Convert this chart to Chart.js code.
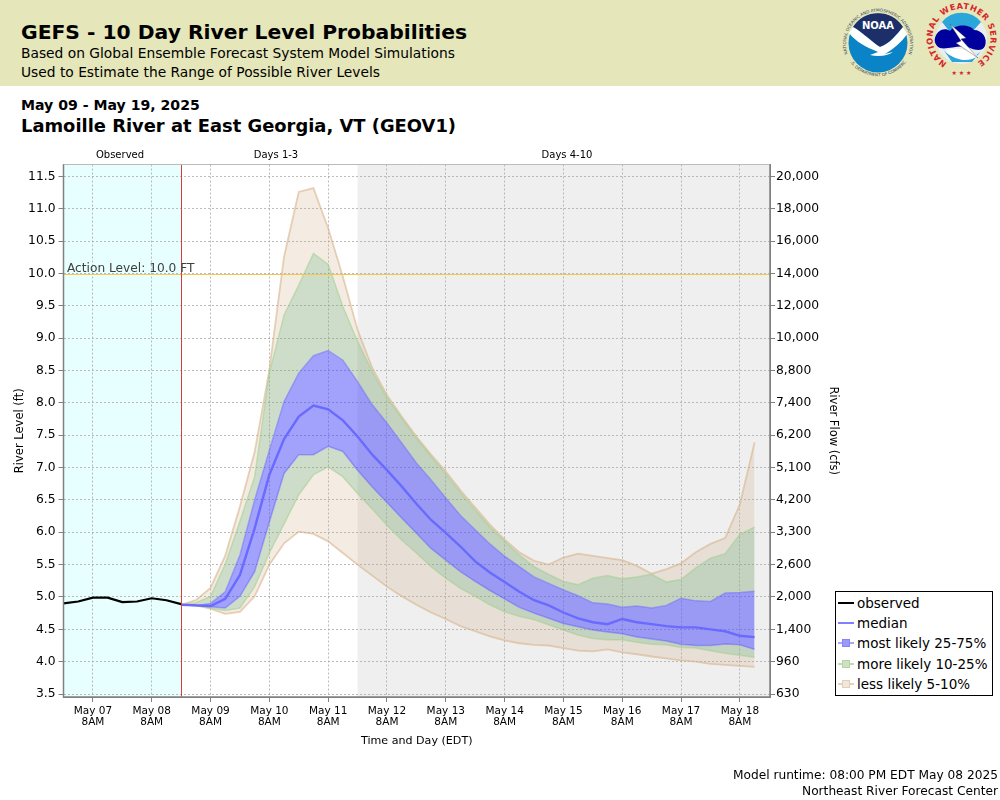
<!DOCTYPE html>
<html>
<head>
<meta charset="utf-8">
<title>GEFS - 10 Day River Level Probabilities</title>
<script src="https://cdn.jsdelivr.net/npm/chart.js@4/dist/chart.umd.min.js"></script>
<style>
  html, body { margin: 0; padding: 0; background: #fff; }
  body { width: 1000px; height: 800px; position: relative; overflow: hidden; font-family: "DejaVu Sans", sans-serif; color: #000; }
  #chart { position: absolute; left: 0; top: 0; }
  .banner { position: absolute; left: 0; top: 0; width: 1000px; height: 86px; background: #e5e6b9; }
  .txt { position: absolute; white-space: nowrap; line-height: 1; }
  .legend { position: absolute; left: 835px; top: 591px; width: 156px; height: 103px; background: #fff; border: 1px solid #000; }
  .legend .row { position: absolute; left: 0; height: 20px; width: 156px; }
  .legend .lbl { position: absolute; left: 21px; top: 2px; font-size: 13.5px; line-height: 16px; white-space: nowrap; color: #000; }
  .legend .ln { position: absolute; left: 2px; top: 9px; width: 16px; height: 2px; }
  .legend .sq { position: absolute; left: 6px; top: 6px; width: 6px; height: 6px; border: 1px solid; }
</style>
</head>
<body>
<div class="banner"></div>
<div class="txt" style="left:21px;top:22px;font-size:20.3px;font-weight:bold">GEFS - 10 Day River Level Probabilities</div>
<div class="txt" style="left:21px;top:47px;font-size:13.8px">Based on Global Ensemble Forecast System Model Simulations</div>
<div class="txt" style="left:21px;top:66px;font-size:13.8px">Used to Estimate the Range of Possible River Levels</div>
<div class="txt" style="left:21px;top:98px;font-size:14.1px;font-weight:bold">May 09 - May 19, 2025</div>
<div class="txt" style="left:21px;top:117px;font-size:17.9px;font-weight:bold">Lamoille River at East Georgia, VT (GEOV1)</div>

<svg style="position:absolute;left:835px;top:0" width="165" height="86" viewBox="835 0 165 86">
  <defs>
    <path id="noaaTop" d="M848.5 56 A32 32 0 1 1 907.5 56"/>
    <path id="noaaBottom" d="M850 62 A34.5 34.5 0 0 0 906 62"/>
    <path id="nwsRing" d="M947 63 A29 29 0 1 1 976 63"/>
  </defs>
  <!-- noaa -->
  <circle cx="878" cy="43" r="29.5" fill="#0a84c6"/>
  <path d="M853 27 A29.5 29.5 0 0 1 903 27 C897 34 889 44 880 47 C872 42 862 32 853 27 Z" fill="#1d2f68"/>
  <path d="M849 33 L853 27 C862 32 872 42 880 47 C890 44 897 34 903 27 L907 34 C902 42 892 50 885 54 L893 52 C888 56 878 57 870 55 L878 52 C866 47 856 42 849 33 Z" fill="#fff"/>
  <text x="878" y="29" font-size="10" font-weight="bold" fill="#fff" text-anchor="middle" font-family="DejaVu Sans">NOAA</text>
  <text font-size="4.2" fill="#33435c" font-family="DejaVu Sans"><textPath href="#noaaTop" startOffset="50%" text-anchor="middle">NATIONAL OCEANIC AND ATMOSPHERIC ADMINISTRATION</textPath></text>
  <text font-size="4.2" fill="#33435c" font-family="DejaVu Sans"><textPath href="#noaaBottom" startOffset="50%" text-anchor="middle">U.S. DEPARTMENT OF COMMERCE</textPath></text>
  <!-- nws -->
  <circle cx="961.5" cy="38.5" r="25.5" fill="#e9eef0"/>
  <path d="M942 22 A25 25 0 0 1 981 22 L972 32 L950 32 Z" fill="#2aa6da"/>
  <path d="M943 49 C950 60 972 63 982 50 L972 62 L952 62 Z" fill="#2aa6da"/>
  <path d="M935 38 C937 30 945 27 950 31 C957 23 970 25 974 30 C982 30 988 38 985 46 C982 52 975 50 970 48 C960 44 948 50 940 48 C936 46 934 42 935 38 Z" fill="#00009c"/>
  <path d="M946 51 C956 46 968 50 978 56 C970 62 956 62 946 51 Z" fill="#fff"/>
  <path d="M950 24 L966 38 L961 39 L978 58 L956 43 L961 41 Z" fill="#fff" stroke="#444" stroke-width="0.4"/>
  <text font-size="8.2" font-weight="bold" fill="#d8232c" font-family="DejaVu Sans"><textPath href="#nwsRing" textLength="150" lengthAdjust="spacing">NATIONAL WEATHER SERVICE</textPath></text>
  <text x="961.5" y="75" font-size="6" fill="#d8232c" text-anchor="middle" font-family="DejaVu Sans">★ ★ ★</text>
</svg>

<canvas id="chart" width="1000" height="800"></canvas>

<div class="legend">
  <div class="row" style="top:1px"><span class="ln" style="background:#000"></span><span class="lbl">observed</span></div>
  <div class="row" style="top:21px"><span class="ln" style="background:#7f7fff"></span><span class="lbl">median</span></div>
  <div class="row" style="top:41px"><span class="ln" style="background:#a9a9fb"></span><span class="sq" style="background:#9a9af8;border-color:#8585f5"></span><span class="lbl">most likely 25-75%</span></div>
  <div class="row" style="top:62px"><span class="ln" style="background:#c2dbb4"></span><span class="sq" style="background:#cfe0c6;border-color:#b5d4a6"></span><span class="lbl">more likely 10-25%</span></div>
  <div class="row" style="top:82px"><span class="ln" style="background:#e6d3bd"></span><span class="sq" style="background:#f0e6da;border-color:#e3cfb6"></span><span class="lbl">less likely 5-10%</span></div>
</div>

<div class="txt" style="right:2px;top:769px;font-size:12.2px">Model runtime: 08:00 PM EDT May 08 2025</div>
<div class="txt" style="right:2px;top:785px;font-size:12.2px">Northeast River Forecast Center</div>

<script>
// hours counted from May 07 8AM
const observedHours = [-12, -6, 0, 6, 12, 18, 24, 30, 36];
const observed = [4.90, 4.93, 4.99, 4.99, 4.92, 4.93, 4.98, 4.95, 4.89];

const forecastHours = [36, 42, 48, 54, 60, 66, 72, 78, 84, 90, 96, 102, 108, 114, 120, 126, 132, 138, 144, 150,
  156, 162, 168, 174, 180, 186, 192, 198, 204, 210, 216, 222, 228, 234, 240, 246, 252, 258, 264, 270];

const p95 = [4.88, 4.95, 5.14, 5.64, 6.40, 7.24, 8.51, 10.26, 11.26, 11.32, 10.70, 9.95, 9.13, 8.54, 8.12, 7.79, 7.48, 7.20, 6.94, 6.65,
  6.38, 6.12, 5.89, 5.69, 5.56, 5.50, 5.61, 5.67, 5.635, 5.60, 5.57, 5.48, 5.36, 5.43, 5.52, 5.69, 5.82, 5.91, 6.43, 7.39];
const p90 = [4.88, 4.91, 5.01, 5.51, 6.17, 6.86, 8.46, 9.36, 9.82, 10.31, 10.14, 9.49, 8.95, 8.48, 8.08, 7.76, 7.45, 7.17, 6.90, 6.61,
  6.34, 6.08, 5.86, 5.65, 5.47, 5.35, 5.24, 5.19, 5.29, 5.33, 5.28, 5.31, 5.35, 5.23, 5.27, 5.45, 5.60, 5.67, 5.97, 6.08];
const p75 = [4.88, 4.87, 4.90, 5.08, 5.65, 6.50, 7.27, 8.02, 8.46, 8.73, 8.81, 8.66, 8.33, 7.97, 7.69, 7.38, 7.07, 6.81, 6.53, 6.26,
  6.04, 5.82, 5.63, 5.47, 5.31, 5.21, 5.11, 5.02, 4.91, 4.89, 4.84, 4.86, 4.83, 4.87, 4.98, 4.94, 4.93, 5.06, 5.07, 5.09];
const median = [4.88, 4.87, 4.86, 4.97, 5.34, 6.06, 6.89, 7.44, 7.79, 7.96, 7.90, 7.73, 7.48, 7.20, 6.96, 6.71, 6.44, 6.19, 5.99, 5.78,
  5.55, 5.38, 5.23, 5.08, 4.95, 4.87, 4.76, 4.67, 4.61, 4.58, 4.66, 4.61, 4.58, 4.55, 4.53, 4.53, 4.50, 4.47, 4.40, 4.38];
const p25 = [4.88, 4.87, 4.85, 4.83, 5.01, 5.39, 6.16, 6.91, 7.20, 7.20, 7.33, 7.25, 6.96, 6.70, 6.46, 6.22, 5.985, 5.75, 5.57, 5.39,
  5.24, 5.10, 4.97, 4.84, 4.75, 4.67, 4.59, 4.54, 4.49, 4.46, 4.43, 4.38, 4.35, 4.32, 4.27, 4.25, 4.25, 4.275, 4.26, 4.19];
const p10 = [4.88, 4.87, 4.83, 4.79, 4.83, 5.16, 5.68, 6.13, 6.58, 6.89, 7.01, 6.86, 6.60, 6.36, 6.11, 5.88, 5.68, 5.47, 5.29, 5.135,
  5.01, 4.88, 4.77, 4.70, 4.65, 4.57, 4.49, 4.41, 4.36, 4.34, 4.34, 4.30, 4.27, 4.26, 4.22, 4.21, 4.17, 4.13, 4.10, 4.07];
const p5 = [4.88, 4.87, 4.82, 4.74, 4.77, 5.01, 5.50, 5.83, 6.01, 5.975, 5.86, 5.68, 5.50, 5.33, 5.16, 5.01, 4.88, 4.76, 4.66, 4.55,
  4.47, 4.39, 4.33, 4.285, 4.26, 4.25, 4.21, 4.17, 4.16, 4.19, 4.145, 4.115, 4.08, 4.05, 4.02, 4.00, 3.965, 3.95, 3.935, 3.92];

const levelTicks = [3.5, 4, 4.5, 5, 5.5, 6, 6.5, 7, 7.5, 8, 8.5, 9, 9.5, 10, 10.5, 11, 11.5];
const flowLabels = ['630', '960', '1,400', '2,000', '2,600', '3,300', '4,200', '5,100', '6,200', '7,400', '8,800',
  '10,000', '12,000', '14,000', '16,000', '18,000', '20,000'];
const dayTicks = [0, 24, 48, 72, 96, 120, 144, 168, 192, 216, 240, 264];
const dayLabels = ['May 07', 'May 08', 'May 09', 'May 10', 'May 11', 'May 12', 'May 13', 'May 14', 'May 15', 'May 16', 'May 17', 'May 18'];

const actionLevel = 10;
const forecastStart = 36;   // May 08 8PM, model runtime
const day4Start = 108;      // May 11 8PM

const toPoints = (hours, values) => values.map((y, i) => ({ x: hours[i], y }));

function band(label, values, line, fillColor, target, width) {
  return {
    label,
    data: toPoints(forecastHours, values),
    borderColor: line,
    backgroundColor: fillColor,
    borderWidth: width,
    pointRadius: 0,
    tension: 0,
    fill: target === null ? false : target
  };
}

const BLUE_FILL = 'rgba(70,70,250,0.5)', BLUE_LINE = 'rgba(110,110,250,0.5)';
const GREEN_FILL = 'rgba(125,165,115,0.38)', GREEN_LINE = 'rgba(160,205,140,0.55)';
const TAN_FILL = 'rgba(205,170,125,0.22)', TAN_LINE = 'rgba(215,180,140,0.6)';

// background zones, section captions, action level and the forecast start line
const decorations = {
  id: 'decorations',
  beforeDraw(chart) {
    const { ctx, chartArea: a, scales: { x } } = chart;
    ctx.save();
    ctx.fillStyle = '#e8ffff';
    ctx.fillRect(a.left, a.top, x.getPixelForValue(forecastStart) - a.left, a.height);
    ctx.fillStyle = '#efefef';
    ctx.fillRect(x.getPixelForValue(day4Start), a.top, a.right - x.getPixelForValue(day4Start), a.height);
    ctx.font = '10px "DejaVu Sans"';
    ctx.fillStyle = '#000';
    ctx.textAlign = 'center';
    ctx.fillText('Observed', 120, 157.5);
    ctx.fillText('Days 1-3', 276, 157.5);
    ctx.fillText('Days 4-10', 567, 157.5);
    ctx.restore();
  },
  afterDatasetsDraw(chart) {
    const { ctx, chartArea: a, scales: { x, y } } = chart;
    const ya = Math.round(y.getPixelForValue(actionLevel)) + 0.5;
    const xf = Math.round(x.getPixelForValue(forecastStart)) + 0.5;
    ctx.save();
    ctx.lineWidth = 1;
    ctx.strokeStyle = '#f2c94c';
    ctx.beginPath(); ctx.moveTo(a.left, ya); ctx.lineTo(a.right, ya); ctx.stroke();
    ctx.strokeStyle = '#d93a3a';
    ctx.beginPath(); ctx.moveTo(xf, a.top); ctx.lineTo(xf, a.bottom); ctx.stroke();
    ctx.font = '12.2px "DejaVu Sans"';
    ctx.fillStyle = '#404040';
    ctx.fillText('Action Level: 10.0 FT', a.left + 3.5, ya - 3);
    // plot frame: light on top, darker axis lines on the other sides
    ctx.strokeStyle = '#bbbbbb';
    ctx.beginPath(); ctx.moveTo(a.left, a.top); ctx.lineTo(a.right, a.top); ctx.stroke();
    ctx.strokeStyle = '#808080';
    ctx.lineWidth = 1.5;
    ctx.beginPath();
    ctx.moveTo(a.left, a.top); ctx.lineTo(a.left, a.bottom); ctx.lineTo(a.right, a.bottom); ctx.lineTo(a.right, a.top);
    ctx.stroke();
    ctx.restore();
  }
};

const gridStyle = { color: 'rgba(170,170,170,0.8)', tickColor: '#808080', tickLength: 5, drawOnChartArea: true, tickBorderDash: [] };

new Chart(document.getElementById('chart'), {
  type: 'line',
  data: {
    datasets: [
      { label: 'observed', data: toPoints(observedHours, observed), borderColor: '#000', borderWidth: 2.2, pointRadius: 0, tension: 0, fill: false },
      { label: 'median', data: toPoints(forecastHours, median), borderColor: '#6a6aff', borderWidth: 2.4, pointRadius: 0, tension: 0, fill: false },
      band('75%', p75, BLUE_LINE, BLUE_FILL, 3, 1.5),
      band('25%', p25, BLUE_LINE, 'transparent', null, 1.5),
      band('90%', p90, GREEN_LINE, GREEN_FILL, 2, 1.5),
      band('10%', p10, GREEN_LINE, GREEN_FILL, 3, 1.5),
      band('95%', p95, TAN_LINE, TAN_FILL, 4, 1.8),
      band('5%', p5, TAN_LINE, TAN_FILL, 5, 1.8)
    ]
  },
  options: {
    responsive: false,
    animation: false,
    devicePixelRatio: 1,
    layout: { padding: { top: 164.5, right: 160, bottom: 52, left: 0 } },
    plugins: { legend: { display: false }, tooltip: { enabled: false } },
    scales: {
      x: {
        type: 'linear',
        min: -12,
        max: 276.3,
        afterBuildTicks: s => { s.ticks = dayTicks.map(value => ({ value })); },
        afterFit: s => { s.height = 51; },
        ticks: {
          autoSkip: false, maxRotation: 0, color: '#000', padding: 3,
          font: { size: 10.5, family: '"DejaVu Sans"', lineHeight: 1.1 },
          callback: v => [dayLabels[dayTicks.indexOf(v)], '8AM']
        },
        grid: gridStyle,
        border: { color: '#808080', dash: [2, 2] },
        title: { display: true, text: 'Time and Day (EDT)', color: '#000', padding: { top: 5, bottom: 0 }, font: { size: 11.1, family: '"DejaVu Sans"' } }
      },
      y: {
        type: 'linear',
        position: 'left',
        min: 3.454,
        max: 11.685,
        afterBuildTicks: s => { s.ticks = levelTicks.map(value => ({ value })); },
        afterFit: s => { s.width = 63.5; },
        ticks: { autoSkip: false, color: '#000', padding: 3, font: { size: 12.3, family: '"DejaVu Sans"' }, callback: v => v.toFixed(1) },
        grid: gridStyle,
        border: { color: '#808080', dash: [2, 2] },
        title: { display: true, text: 'River Level (ft)', color: '#000', padding: { top: 13, bottom: 0 }, font: { size: 11.5, family: '"DejaVu Sans"' } }
      },
      flow: {
        type: 'linear',
        position: 'right',
        min: 3.454,
        max: 11.685,
        afterBuildTicks: s => { s.ticks = levelTicks.map(value => ({ value })); },
        afterFit: s => { s.width = 70; },
        ticks: { autoSkip: false, color: '#000', padding: 1, font: { size: 12.3, family: '"DejaVu Sans"' }, callback: v => flowLabels[levelTicks.indexOf(v)] },
        grid: { display: true, drawOnChartArea: false, tickColor: '#808080', tickLength: 5, color: '#808080' },
        border: { color: '#808080' },
        title: { display: true, text: 'River Flow (cfs)', color: '#000', padding: { top: 0, bottom: 4 }, font: { size: 11.5, family: '"DejaVu Sans"' } }
      }
    }
  },
  plugins: [decorations]
});
</script>
</body>
</html>
